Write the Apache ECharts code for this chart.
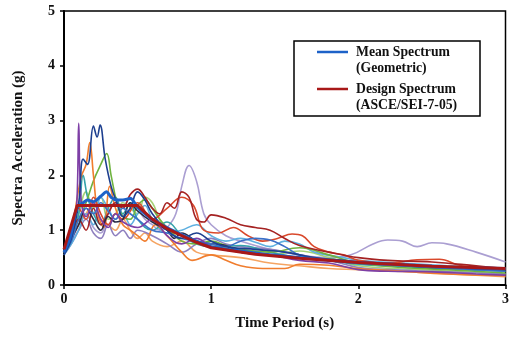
<!DOCTYPE html>
<html><head><meta charset="utf-8">
<script src="https://cdn.jsdelivr.net/npm/echarts@6/dist/echarts.min.js"></script>
<style>html,body{margin:0;padding:0;background:#fff}#c{width:512px;height:338px}</style>
</head><body><div id="c"></div>
<script>
// Axis ticks
const xTicks = [0, 1, 2, 3];
const yTicks = [0, 1, 2, 3, 4, 5];

// Individual ground-motion spectra: [period (s), Sa (g)]
const recPurple = [[0,0.6],[0.05,0.9],[0.085,1.4],[0.1,2.95],[0.115,1.6],[0.15,1.25],[0.2,1.5],[0.25,1.2],[0.3,1.05],[0.35,1.3],[0.4,1.15],[0.5,1.05],[0.6,1.2],[0.7,0.9],[0.8,0.75],[0.9,0.85],[1.0,0.7],[1.2,0.6],[1.4,0.55],[1.6,0.45],[1.8,0.4],[2.0,0.28],[2.2,0.25],[2.5,0.24],[2.8,0.2],[3.0,0.18]];
const recNavy = [[0,0.55],[0.05,0.85],[0.1,1.5],[0.13,2.3],[0.16,2.2],[0.2,2.9],[0.225,2.7],[0.245,2.92],[0.28,2.3],[0.32,1.8],[0.36,1.5],[0.4,1.25],[0.45,1.4],[0.5,1.7],[0.55,1.55],[0.6,1.3],[0.7,1.0],[0.8,0.85],[0.9,0.95],[1.0,0.8],[1.1,0.7],[1.3,0.65],[1.5,0.6],[1.7,0.5],[1.9,0.45],[2.0,0.42],[2.3,0.38],[2.6,0.32],[3.0,0.28]];
const recOrange = [[0,0.62],[0.05,0.95],[0.09,1.6],[0.12,2.0],[0.15,2.2],[0.175,2.6],[0.2,2.0],[0.23,1.3],[0.27,1.05],[0.31,1.8],[0.35,1.4],[0.4,1.1],[0.45,1.0],[0.5,0.9],[0.55,0.8],[0.62,1.1],[0.7,0.9],[0.8,0.6],[0.87,0.45],[1.0,0.55],[1.1,0.45],[1.2,0.35],[1.35,0.3],[1.5,0.3],[1.6,0.38],[1.8,0.36],[2.0,0.3],[2.3,0.25],[2.6,0.2],[3.0,0.17]];
const recGreen = [[0,0.65],[0.05,0.9],[0.1,1.2],[0.15,1.5],[0.2,1.9],[0.25,2.2],[0.29,2.4],[0.32,2.0],[0.36,1.5],[0.4,1.25],[0.45,1.2],[0.5,1.45],[0.55,1.55],[0.6,1.4],[0.65,1.2],[0.7,1.05],[0.8,0.8],[0.9,0.75],[1.0,0.8],[1.1,0.72],[1.2,0.65],[1.4,0.6],[1.6,0.68],[1.8,0.55],[2.0,0.4],[2.3,0.32],[2.6,0.28],[3.0,0.22]];
const recLavender = [[0,0.6],[0.05,0.8],[0.1,1.1],[0.15,1.3],[0.2,1.05],[0.25,0.95],[0.3,1.3],[0.35,1.5],[0.4,1.45],[0.45,1.6],[0.5,1.4],[0.55,1.2],[0.6,1.1],[0.65,1.0],[0.7,1.05],[0.76,1.3],[0.8,1.8],[0.85,2.18],[0.9,1.9],[0.95,1.3],[1.0,1.1],[1.1,0.9],[1.2,0.8],[1.4,0.65],[1.6,0.55],[1.8,0.5],[1.95,0.55],[2.1,0.75],[2.2,0.82],[2.3,0.8],[2.4,0.7],[2.5,0.77],[2.6,0.75],[2.8,0.6],[3.0,0.42]];
const recLightBlue = [[0,0.55],[0.05,0.75],[0.1,1.0],[0.15,1.3],[0.2,1.1],[0.25,1.6],[0.3,1.4],[0.35,1.2],[0.4,1.3],[0.45,1.1],[0.5,1.3],[0.55,1.45],[0.6,1.2],[0.7,0.95],[0.8,1.0],[0.9,1.1],[1.0,0.9],[1.1,0.8],[1.2,0.85],[1.3,0.78],[1.4,0.7],[1.5,0.8],[1.6,0.75],[1.7,0.6],[1.9,0.5],[2.0,0.45],[2.3,0.4],[2.6,0.35],[3.0,0.3]];
const recTeal = [[0,0.58],[0.05,0.8],[0.1,1.3],[0.13,2.0],[0.16,1.6],[0.2,1.3],[0.25,1.1],[0.3,1.4],[0.35,1.6],[0.4,1.3],[0.45,1.5],[0.5,1.2],[0.6,1.0],[0.7,1.15],[0.8,0.9],[0.9,0.75],[1.0,0.7],[1.2,0.72],[1.4,0.6],[1.6,0.5],[1.8,0.45],[2.0,0.38],[2.4,0.32],[2.7,0.28],[3.0,0.25]];
const recDarkRed = [[0,0.6],[0.05,0.9],[0.1,1.2],[0.15,1.0],[0.2,1.4],[0.25,1.1],[0.3,1.3],[0.35,1.5],[0.4,1.4],[0.45,1.65],[0.5,1.75],[0.55,1.6],[0.6,1.4],[0.65,1.3],[0.7,1.5],[0.75,1.4],[0.8,1.7],[0.85,1.6],[0.9,1.2],[0.95,1.15],[1.0,1.28],[1.1,1.22],[1.2,1.1],[1.3,1.05],[1.4,1.0],[1.5,0.85],[1.6,0.72],[1.8,0.6],[2.0,0.5],[2.2,0.45],[2.5,0.42],[2.8,0.35],[3.0,0.3]];
const recOrangeRed = [[0,0.62],[0.05,0.9],[0.1,1.4],[0.15,1.2],[0.2,1.6],[0.25,1.3],[0.3,1.1],[0.35,1.3],[0.4,1.2],[0.5,1.5],[0.6,1.2],[0.7,1.4],[0.8,1.6],[0.88,1.45],[0.95,1.0],[1.05,0.95],[1.15,1.05],[1.25,0.9],[1.35,0.8],[1.45,0.85],[1.55,0.93],[1.62,0.9],[1.7,0.7],[1.8,0.6],[1.9,0.55],[2.0,0.45],[2.2,0.4],[2.4,0.46],[2.55,0.47],[2.7,0.35],[3.0,0.28]];
const recPeach = [[0,0.6],[0.05,0.85],[0.1,1.1],[0.15,1.3],[0.2,1.5],[0.25,1.2],[0.3,1.1],[0.35,1.0],[0.4,1.2],[0.45,1.0],[0.5,0.85],[0.55,0.95],[0.6,0.8],[0.7,0.7],[0.8,0.8],[0.9,0.6],[1.0,0.55],[1.2,0.5],[1.4,0.4],[1.6,0.35],[1.8,0.3],[2.0,0.28],[2.5,0.22],[3.0,0.15]];
const recLightGreen = [[0,0.6],[0.05,0.85],[0.1,1.3],[0.15,1.7],[0.2,1.4],[0.25,1.6],[0.3,1.2],[0.35,1.3],[0.4,1.5],[0.5,1.3],[0.55,1.6],[0.6,1.5],[0.65,1.2],[0.7,1.0],[0.8,0.9],[0.9,0.8],[1.0,0.75],[1.2,0.6],[1.4,0.55],[1.6,0.62],[1.8,0.5],[2.0,0.35],[2.4,0.28],[3.0,0.2]];
const recBlack = [[0,0.6],[0.05,0.85],[0.1,1.1],[0.15,1.4],[0.2,1.2],[0.25,1.0],[0.3,1.25],[0.35,1.15],[0.4,1.2],[0.45,1.5],[0.5,1.35],[0.6,1.15],[0.7,1.0],[0.75,0.85],[0.8,0.95],[0.9,0.8],[1.0,0.75],[1.1,0.72],[1.2,0.6],[1.4,0.55],[1.6,0.5],[1.8,0.45],[2.0,0.42],[2.2,0.38],[2.5,0.32],[2.8,0.3],[3.0,0.28]];
const recGreyPurple = [[0,0.55],[0.05,0.75],[0.1,1.0],[0.15,1.2],[0.2,0.95],[0.25,0.85],[0.3,1.1],[0.35,0.9],[0.4,1.0],[0.45,0.85],[0.5,1.0],[0.6,0.9],[0.7,0.75],[0.8,0.6],[0.9,0.75],[1.0,0.85],[1.1,0.75],[1.2,0.7],[1.4,0.65],[1.6,0.55],[1.8,0.45],[2.0,0.32],[2.2,0.28],[2.5,0.25],[2.8,0.22],[3.0,0.2]];
const recBlue = [[0,0.58],[0.05,0.8],[0.1,1.2],[0.15,1.4],[0.2,1.3],[0.25,1.5],[0.3,1.35],[0.35,1.2],[0.4,1.4],[0.45,1.3],[0.5,1.2],[0.6,1.0],[0.7,0.95],[0.8,0.85],[0.9,0.8],[1.0,0.75],[1.1,0.7],[1.2,0.8],[1.3,0.85],[1.4,0.82],[1.5,0.7],[1.6,0.55],[1.8,0.45],[2.0,0.4],[2.5,0.32],[3.0,0.25]];

// Mean spectrum (geometric)
const meanSpectrum = [[0,0.6],[0.04,0.85],[0.08,1.35],[0.1,1.45],[0.13,1.5],[0.16,1.55],[0.2,1.52],[0.25,1.62],[0.29,1.7],[0.32,1.6],[0.36,1.55],[0.4,1.55],[0.45,1.58],[0.5,1.42],[0.55,1.3],[0.6,1.2],[0.7,1.05],[0.8,0.92],[0.9,0.8],[1.0,0.7],[1.2,0.62],[1.4,0.55],[1.6,0.5],[1.8,0.45],[2.0,0.41],[2.3,0.37],[2.6,0.33],[3.0,0.3]];
// Design spectrum (ASCE/SEI-7-05)
const designSpectrum = [[0,0.65],[0.09,1.45],[0.5,1.45],[0.6,1.2],[0.7,1.03],[0.8,0.9],[0.9,0.78],[1.0,0.68],[1.3,0.56],[1.6,0.49],[2.0,0.41],[2.5,0.34],[3.0,0.3]];

const records = [
  {d: recLavender, c: '#ab9fd2'},
  {d: recPeach, c: '#f5a462'},
  {d: recLightGreen, c: '#a6d277'},
  {d: recGreyPurple, c: '#8f80bf'},
  {d: recLightBlue, c: '#5fb0e0'},
  {d: recTeal, c: '#35a2aa'},
  {d: recGreen, c: '#6fb33f'},
  {d: recOrange, c: '#f07d2e'},
  {d: recOrangeRed, c: '#d9482b'},
  {d: recDarkRed, c: '#a52222'},
  {d: recBlack, c: '#2b2b45'},
  {d: recBlue, c: '#3c70c8'},
  {d: recPurple, c: '#7e3fa6'},
  {d: recNavy, c: '#1d3f8f'}
];

const serif = '"Liberation Serif", "DejaVu Serif", serif';
const series = records.map(r => ({
  type: 'line', data: r.d, smooth: 0.4, symbol: 'none', silent: true,
  lineStyle: {color: r.c, width: 1.6}
}));
series.push({type:'line', name:'Mean Spectrum', data: meanSpectrum, smooth: 0.3, symbol:'none', lineStyle:{color:'#1d62c8', width:3}});
series.push({type:'line', name:'Design Spectrum', data: designSpectrum, smooth: false, symbol:'none', lineStyle:{color:'#a81818', width:3}});

const chart = echarts.init(document.getElementById('c'));
chart.setOption({
  animation: false,
  backgroundColor: '#fff',
  grid: {left: 64, right: 2, top: 11, bottom: 53, show: true, borderColor: '#000', borderWidth: 1.5},
  xAxis: {
    type: 'value', min: xTicks[0], max: xTicks[xTicks.length-1], interval: 1,
    name: 'Time Period (s)', nameLocation: 'middle', nameGap: 31,
    nameTextStyle: {fontFamily: serif, fontWeight: 'bold', fontSize: 15, color: '#111'},
    axisLine: {lineStyle: {color: '#000', width: 2}},
    axisTick: {show: true, length: 4, lineStyle: {color: '#000', width: 1.5}},
    axisLabel: {fontFamily: serif, fontWeight: 'bold', fontSize: 14, color: '#111', margin: 7},
    splitLine: {show: false}
  },
  yAxis: {
    type: 'value', min: yTicks[0], max: yTicks[yTicks.length-1], interval: 1,
    name: 'Spectra Acceleration (g)', nameLocation: 'middle', nameGap: 38, nameRotate: 90,
    nameTextStyle: {fontFamily: serif, fontWeight: 'bold', fontSize: 15, color: '#111'},
    axisLine: {show: true, lineStyle: {color: '#000', width: 2}},
    axisTick: {show: true, length: 4, lineStyle: {color: '#000', width: 1.5}},
    axisLabel: {fontFamily: serif, fontWeight: 'bold', fontSize: 14, color: '#111', margin: 9},
    splitLine: {show: false}
  },
  series: series,
  graphic: [
    {type:'rect', shape:{x:294, y:41, width:186, height:75}, style:{fill:'#fff', stroke:'#000', lineWidth:1.5}, z: 100},
    {type:'line', shape:{x1:317, y1:52, x2:348, y2:52}, style:{stroke:'#1d62c8', lineWidth:2.5}, z: 101},
    {type:'line', shape:{x1:317, y1:89, x2:348, y2:89}, style:{stroke:'#a81818', lineWidth:2.5}, z: 101},
    {type:'text', x:356, y:52, style:{text:'Mean Spectrum', font:'bold 13.7px ' + serif, fill:'#111', verticalAlign:'middle'}, z: 101},
    {type:'text', x:356, y:68, style:{text:'(Geometric)', font:'bold 13.7px ' + serif, fill:'#111', verticalAlign:'middle'}, z: 101},
    {type:'text', x:356, y:89, style:{text:'Design Spectrum', font:'bold 13.7px ' + serif, fill:'#111', verticalAlign:'middle'}, z: 101},
    {type:'text', x:356, y:105, style:{text:'(ASCE/SEI-7-05)', font:'bold 13.7px ' + serif, fill:'#111', verticalAlign:'middle'}, z: 101}
  ]
});
</script></body></html>
